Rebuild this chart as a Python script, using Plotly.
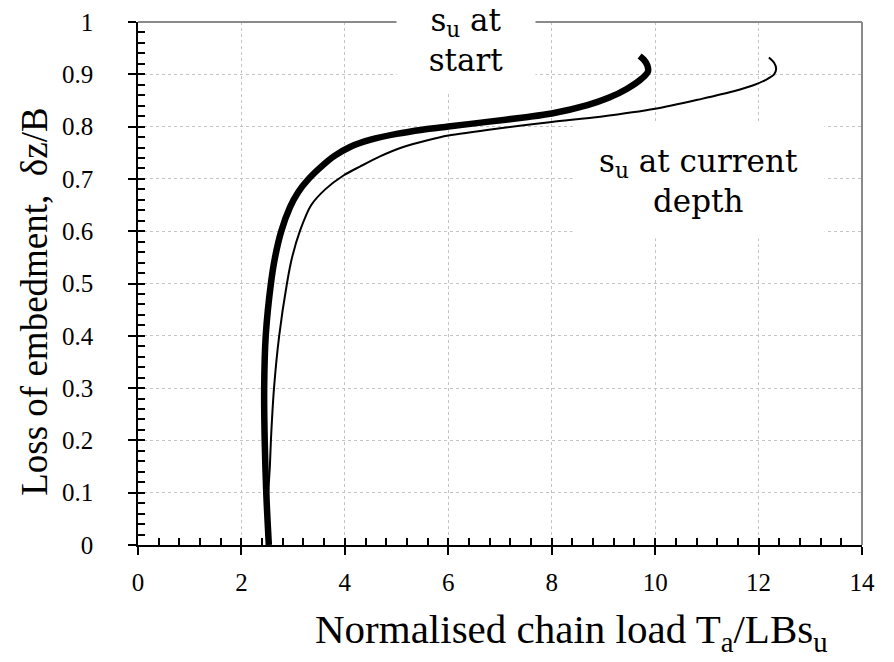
import plotly.graph_objects as go

# Normalised chain load vs loss of embedment
load_su_start = [2.53, 2.48, 2.45, 2.44, 2.47, 2.57, 2.65, 2.77, 2.94, 3.10, 3.30,
                 3.55, 3.80, 4.10, 4.50, 5.00, 5.50, 6.00, 6.75, 7.50, 8.00, 8.69,
                 9.10, 9.45, 9.72, 9.86, 9.85, 9.78, 9.70]
emb_su_start = [0.0, 0.1, 0.2, 0.3, 0.4, 0.5, 0.55, 0.6, 0.646, 0.675, 0.700,
                0.724, 0.744, 0.761, 0.775, 0.786, 0.794, 0.800, 0.809, 0.818, 0.825, 0.841,
                0.855, 0.872, 0.890, 0.905, 0.917, 0.928, 0.935]

load_su_current = [2.52, 2.52, 2.55, 2.57, 2.63, 2.73, 2.88, 2.98, 3.13, 3.35, 3.62,
                   3.98, 4.30, 4.68, 5.10, 5.60, 6.00, 7.00, 8.00, 8.94, 10.00,
                   10.90, 11.50, 11.90, 12.15, 12.30, 12.34, 12.30, 12.20]
emb_su_current = [0.0, 0.1, 0.15, 0.2, 0.3, 0.4, 0.5, 0.55, 0.6, 0.65, 0.68,
                  0.707, 0.724, 0.743, 0.760, 0.774, 0.783, 0.797, 0.809, 0.819, 0.834,
                  0.853, 0.867, 0.879, 0.890, 0.900, 0.910, 0.922, 0.932]

x_range = [0, 14]
y_range = [0, 1]

x_title = "Normalised chain load T<sub>a</sub>/LBs<sub>u</sub>"
y_title = "Loss of embedment,  δz/B"

SERIF = "Liberation Serif, Times New Roman, Times, serif"
TICK_FONT = dict(family=SERIF, size=25, color="black")
NOTE_FONT = dict(family="DejaVu Serif", size=31, color="black")

fig = go.Figure()

fig.add_trace(go.Scatter(
    x=load_su_current, y=emb_su_current, mode="lines",
    line=dict(color="black", width=2, shape="spline", smoothing=0.8),
    showlegend=False, hoverinfo="skip"))

fig.add_trace(go.Scatter(
    x=load_su_start, y=emb_su_start, mode="lines",
    line=dict(color="black", width=6.5, shape="spline", smoothing=0.8),
    showlegend=False, hoverinfo="skip"))

# empty trace on overlay axes that carry the inward minor ticks
fig.add_trace(go.Scatter(x=[None], y=[None], xaxis="x2", yaxis="y2",
                         mode="lines", showlegend=False, hoverinfo="skip"))

fig.update_layout(
    width=894, height=662,
    margin=dict(l=138, r=32, t=22, b=117, autoexpand=False),
    plot_bgcolor="white", paper_bgcolor="white",
    xaxis=dict(
        range=x_range, dtick=2, tick0=0,
        showline=True, linecolor="black", linewidth=1.5,
        ticks="outside", ticklen=8, tickwidth=1.5, tickcolor="black",
        showgrid=True, gridcolor="#c4c4c4", griddash="dot", gridwidth=1,
        zeroline=False, tickfont=TICK_FONT, ticklabelstandoff=6,
    ),
    yaxis=dict(
        range=y_range, dtick=0.1, tick0=0,
        showline=True, linecolor="black", linewidth=1.5,
        ticks="outside", ticklen=8, tickwidth=1.5, tickcolor="black",
        showgrid=True, gridcolor="#c4c4c4", griddash="dot", gridwidth=1,
        zeroline=False, tickfont=TICK_FONT, ticklabelstandoff=30,
    ),
    xaxis2=dict(
        range=x_range, overlaying="x", anchor="y2", side="bottom",
        dtick=0.4, tick0=0, ticks="inside", ticklen=7, tickwidth=1.5,
        tickcolor="black", showticklabels=False, showgrid=False,
        showline=False, zeroline=False,
    ),
    yaxis2=dict(
        range=y_range, overlaying="y", anchor="x2", side="left",
        dtick=0.02, tick0=0, ticks="inside", ticklen=7, tickwidth=1.5,
        tickcolor="black", showticklabels=False, showgrid=False,
        showline=False, zeroline=False,
    ),
    shapes=[
        dict(type="line", xref="paper", yref="paper", x0=0, x1=1, y0=1, y1=1,
             line=dict(color="#8a8a8a", width=2), layer="above"),
        dict(type="line", xref="paper", yref="paper", x0=1, x1=1, y0=0, y1=1,
             line=dict(color="#8a8a8a", width=2), layer="above"),
    ],
    annotations=[
        # axis titles
        dict(x=0.5994, y=-0.166, xref="paper", yref="paper", text=x_title,
             showarrow=False, xanchor="center", yanchor="middle",
             font=dict(family=SERIF, size=41, color="black")),
        dict(x=-0.1423, y=0.465, xref="paper", yref="paper", text=y_title,
             showarrow=False, xanchor="center", yanchor="middle", textangle=-90,
             font=dict(family=SERIF, size=37, color="black")),
        # curve labels
        dict(x=6.35, y=0.966, xref="x", yref="y",
             text="s<sub>u</sub> at<br>start", showarrow=False,
             font=NOTE_FONT, bgcolor="white", width=136, height=104,
             align="center", valign="middle"),
        dict(x=10.83, y=0.6956, xref="x", yref="y",
             text="s<sub>u</sub> at current<br>depth", showarrow=False,
             font=NOTE_FONT, bgcolor="white", width=249, height=112,
             align="center", valign="middle"),
    ],
)

fig.write_html("out.html")
